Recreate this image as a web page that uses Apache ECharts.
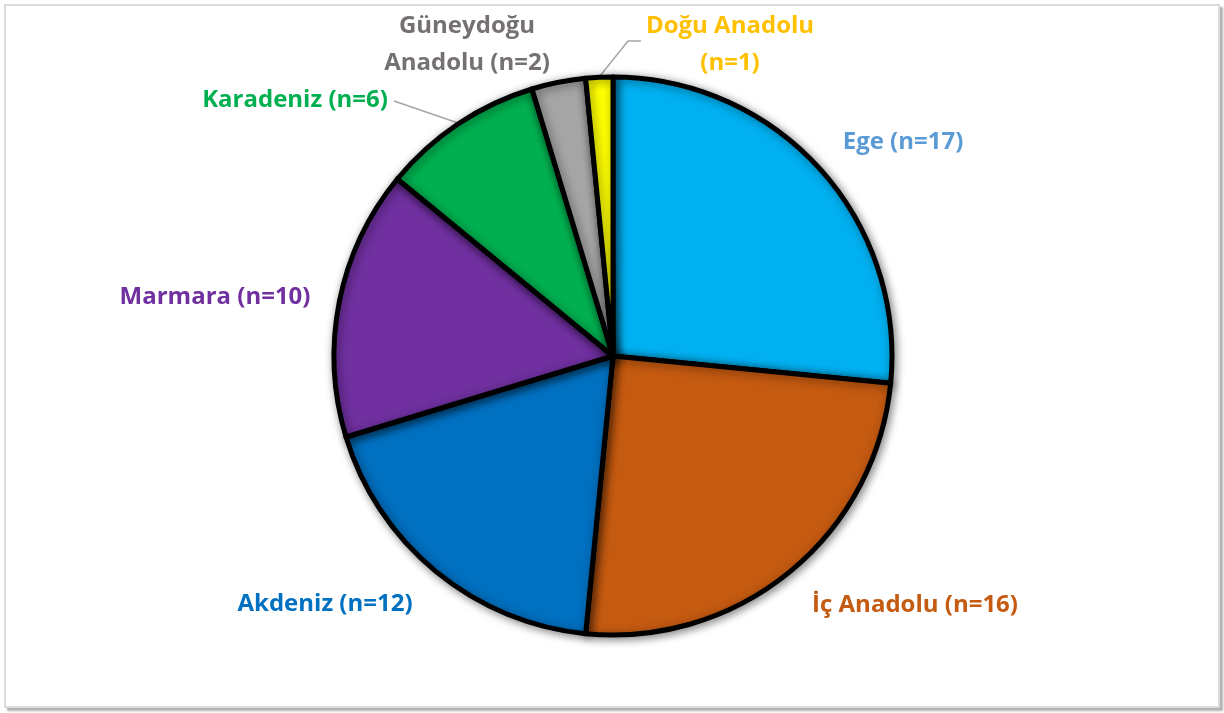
<!DOCTYPE html>
<html>
<head>
<meta charset="utf-8">
<script src="https://cdn.jsdelivr.net/npm/echarts@6/dist/echarts.min.js"></script>
<style>
  html, body { margin: 0; padding: 0; background: #fff; }
  .frame {
    position: absolute; left: 4px; top: 4px; width: 1212px; height: 700px;
    border: 2px solid #dcdcdc; box-shadow: 3px 3px 2px #b0b0b0; background: #fff;
  }
  #chart { position: absolute; left: 0; top: 0; width: 1224px; height: 713px; }
</style>
</head>
<body>
<div class="frame"></div>
<div id="chart"></div>
<script>
// regions and counts, clockwise from 12 o'clock
const regions = ['Ege', 'İç Anadolu', 'Akdeniz', 'Marmara', 'Karadeniz', 'Güneydoğu\nAnadolu', 'Doğu Anadolu\n'];
const counts = [17, 16, 12, 10, 6, 2, 1];
const sliceColors = ['#00b0f0', '#c55a11', '#0070c0', '#7030a0', '#00b050', '#a5a5a5', '#ffff00'];
const labelColors = ['#5b9bd5', '#c55a11', '#0070c0', '#7030a0', '#00b050', '#767171', '#ffc000'];

// where each label sits (centre), in px
const labelPos = [[903, 142], [915, 605], [325, 604], [215, 297], [295, 100], [467, 45], [730, 45]];
const linePts = {
  4: [[394, 101], [458, 123]],
  6: [[641, 41], [628, 41], [600, 76]]
};

const myChart = echarts.init(document.getElementById('chart'));

const option = {
  animation: false,
  series: [{
    type: 'pie',
    center: [613, 356],
    radius: [0, 279],
    startAngle: 90,
    clockwise: true,
    itemStyle: {
      borderColor: '#000',
      borderWidth: 5,
      shadowBlur: 10,
      shadowColor: 'rgba(0,0,0,0.45)',
      shadowOffsetX: 2,
      shadowOffsetY: 2
    },
    label: {
      show: true,
      position: 'outside',
      fontFamily: 'Open Sans',
      fontWeight: 'bold',
      fontSize: 24,
      lineHeight: 37,
      align: 'center'
    },
    labelLine: { show: false },
    labelLayout: function (params) {
      const i = params.dataIndex;
      const p = labelPos[i];
      const res = { x: p[0], y: p[1], align: 'center', verticalAlign: 'middle' };
      if (linePts[i]) res.labelLinePoints = linePts[i];
      return res;
    },
    data: regions.map(function (name, i) {
      const d = {
        value: counts[i],
        name: name,
        itemStyle: { color: sliceColors[i] },
        label: {
          color: labelColors[i],
          formatter: name.replace(/\n$/, '') + (name.endsWith('\n') ? '\n' : ' ') + '(n=' + counts[i] + ')'
        }
      };
      if (linePts[i]) d.labelLine = { show: true, lineStyle: { color: '#a6a6a6', width: 1.5 } };
      return d;
    })
  }]
};

myChart.setOption(option);
</script>
</body>
</html>
